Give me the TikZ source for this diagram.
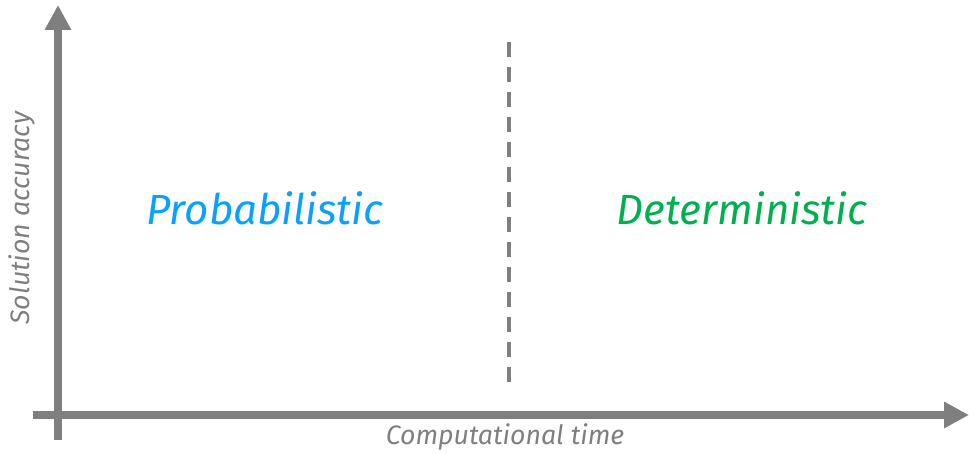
\documentclass[tikz,border=0pt]{standalone}
\usepackage{fontspec}
\setmainfont{Fira Sans}
\usetikzlibrary{arrows.meta,positioning}
\definecolor{axisgray}{HTML}{7F7F7F}
\definecolor{probblue}{HTML}{0AA0FF}
\definecolor{detgreen}{HTML}{00B04F}

\begin{document}
\begin{tikzpicture}[x=0.02cm, y=-0.02cm]
    \tikzset{>=latex}
    % Styles
    \tikzstyle{axis}    = [line width = 0.16cm, draw = axisgray, -{Triangle[length = 0.5cm, width = 0.5cm]}]
    \tikzstyle{divider} = [line width = 0.08cm, draw = axisgray, dash pattern = on 0.3cm off 0.2cm]
    \tikzstyle{region}  = [font = \fontsize{24}{28}\selectfont\itshape]
    \tikzstyle{axlabel} = [font = \fontsize{15.2}{18}\selectfont\itshape, text = axisgray]

    \useasboundingbox (0,0) rectangle (969,455);

    % Axis end points
    \coordinate (ybot) at (58,440);
    \coordinate (ytop) at (58,5);
    \coordinate (xleft) at (33,415);
    \coordinate (xright) at (969,415);
    \coordinate (divtop) at (509,42);
    \coordinate (divbot) at (509,384);

    \node[region, text = probblue] (prob) at (265,208) {Probabilistic};
    \node[region, text = detgreen] (det) at (742,208) {Deterministic};
    \node[axlabel] (xlab) at (505,437) {Computational time};
    \node[axlabel, rotate = 90] (ylab) at (22,218) {Solution accuracy};

    \draw[axis] (ybot) -- (ytop);
    \draw[axis] (xleft) -- (xright);
    \draw[divider] (divtop) -- (divbot);
\end{tikzpicture}
\end{document}
